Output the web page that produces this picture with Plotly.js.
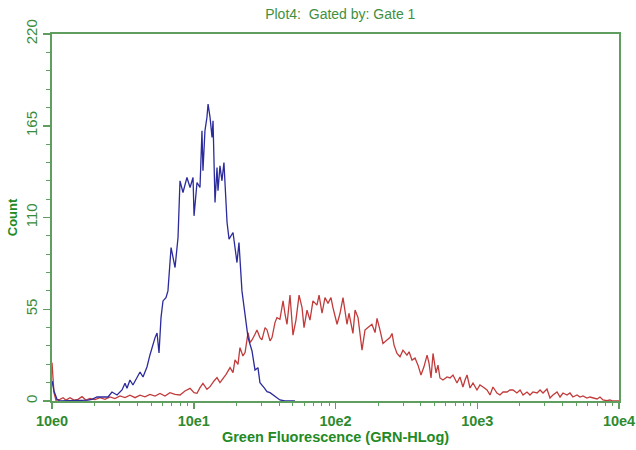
<!DOCTYPE html>
<html>
<head>
<meta charset="utf-8">
<script src="https://cdn.plot.ly/plotly-3.0.1.min.js"></script>
<style>html,body{margin:0;padding:0;background:#fff;}#chart{width:636px;height:450px;}</style>
</head>
<body>
<div id="chart"></div>
<script>
// Fluorescence positions stored as log10 (decades), counts
var blueLogFl = [0,0.014,0.035,0.056,0.254,0.282,0.317,0.360,0.395,0.423,0.459,0.494,0.515,0.529,0.550,0.571,0.600,0.621,0.642,0.670,0.691,0.713,0.727,0.741,0.755,0.769,0.783,0.804,0.818,0.840,0.868,0.889,0.903,0.924,0.952,0.974,0.995,1.002,1.023,1.044,1.058,1.065,1.079,1.093,1.101,1.115,1.129,1.136,1.150,1.164,1.171,1.185,1.199,1.213,1.235,1.249,1.277,1.305,1.319,1.340,1.362,1.383,1.411,1.432,1.453,1.467,1.496,1.517,1.538,1.559,1.587,1.608,1.644,1.714];
var blueCount = [12,6,1,0,0.5,1,2.4,2.4,2.4,5.4,3.6,6.6,10.6,7.6,12.6,9.6,14.4,17.4,14.4,20.4,27.6,34.8,38,40.8,28.8,50,60,62,66,92,80,98,132,125,134,128,134,111,131,128,162,138,162,170,178,170,158,168,119,140,126,141,132,143,107,97,101,83,95,66,50,38,30,18.6,20,11,8,5.6,5,3.6,2,0.6,0,0];

var redLogFl = [0,0.014,0.028,0.056,0.078,0.099,0.127,0.155,0.183,0.212,0.240,0.268,0.303,0.339,0.374,0.409,0.444,0.480,0.515,0.550,0.586,0.621,0.656,0.691,0.727,0.762,0.797,0.832,0.868,0.903,0.938,0.974,1.002,1.023,1.044,1.065,1.093,1.115,1.143,1.164,1.185,1.199,1.228,1.256,1.277,1.291,1.312,1.326,1.347,1.362,1.383,1.397,1.411,1.432,1.446,1.467,1.481,1.503,1.517,1.538,1.552,1.573,1.587,1.608,1.630,1.644,1.658,1.679,1.700,1.721,1.743,1.764,1.778,1.799,1.820,1.841,1.869,1.884,1.905,1.926,1.947,1.968,1.982,2.011,2.032,2.053,2.081,2.095,2.123,2.138,2.159,2.187,2.208,2.229,2.257,2.279,2.293,2.314,2.335,2.363,2.384,2.399,2.413,2.434,2.455,2.476,2.504,2.519,2.540,2.561,2.582,2.603,2.624,2.646,2.660,2.674,2.688,2.709,2.723,2.737,2.758,2.787,2.808,2.829,2.857,2.878,2.899,2.914,2.928,2.949,2.970,2.998,3.019,3.041,3.069,3.090,3.111,3.139,3.160,3.182,3.210,3.231,3.252,3.280,3.302,3.323,3.351,3.372,3.393,3.422,3.443,3.464,3.492,3.513,3.534,3.563,3.584,3.605,3.633,3.654,3.675,3.704,3.725,3.746,3.774,3.795,3.817,3.845,3.866,3.887,3.915,3.936,3.958,4.0];
var redCount = [23,5,0.5,1,2,0.5,2,0.5,1,2.6,0.5,1.5,0.8,2,1,2.5,1.5,3,2,3.5,2,3.5,2.5,4,3,4.5,3,5,4,3.6,6,7.6,5,4.6,8,10.6,7,8.6,12,14,11,12.6,16,20,17,24.6,22,32,27,29,41,35,36.6,40,42.6,38,36.6,44,42.6,36,38,47,50,49,60,52,46,63.5,39.5,48.5,63.5,56,44,54.5,48.5,60,57.5,63.5,52.6,62,58.5,62,56,46,52.6,62,46,52.6,40.5,54.5,50,30.5,42.5,44,46,41,49.5,42.5,34.5,36.5,38,40.5,33.5,28.5,26.5,30.5,27.5,29.5,24.5,25.8,21.5,15.6,20.5,27.5,22.5,13.8,28.5,16.8,21.5,13.8,12.6,14.4,13.8,15.6,10.8,14.4,8.4,12.6,15.6,7.8,10.8,6.6,9.6,8.4,6.6,3.6,8.4,4.8,3.6,5.4,5.4,6.6,6.6,4.8,6.6,3.6,5.4,3.6,5.4,4.8,6.6,4.8,7.2,1.8,3.6,5.4,2.4,4.8,3.6,4.8,2.4,3.6,2.4,3,1.8,2.4,1.8,1.2,2.4,0.6,0.2,0.6,0,0];

var xTickVals = [1, 10, 100, 1000, 10000];
var xTickText = ['10e0', '10e1', '10e2', '10e3', '10e4'];
var yTickVals = [0, 55, 110, 165, 220];
var yTickText = ['0', '55', '110', '165', '220'];

var toLinear = function (arr) { return arr.map(function (v) { return Math.pow(10, v); }); };

var frameGreen = '#5f9e5f';
var textGreen = '#2f8a2f';

var traces = [
  { x: toLinear(redLogFl), y: redCount, type: 'scatter', mode: 'lines',
    line: { color: '#c23b3b', width: 1.3 }, hoverinfo: 'x+y', showlegend: false },
  { x: toLinear(blueLogFl), y: blueCount, type: 'scatter', mode: 'lines',
    line: { color: '#2b2b9c', width: 1.3 }, hoverinfo: 'x+y', showlegend: false }
];

var layout = {
  width: 636, height: 450,
  margin: { l: 52, r: 17, t: 34, b: 49 },
  paper_bgcolor: '#ffffff', plot_bgcolor: '#ffffff',
  title: { text: 'Plot4:  Gated by: Gate 1', xref: 'container', x: 0.535, xanchor: 'center',
           yref: 'container', y: 0.969, yanchor: 'middle',
           font: { family: 'Liberation Sans, Arial, sans-serif', size: 14, color: '#3f8f3f' } },
  xaxis: {
    type: 'log', range: [0, 4],
    tickmode: 'array', tickvals: xTickVals, ticktext: xTickText,
    ticks: 'outside', ticklen: 6, tickwidth: 1.5, tickcolor: frameGreen,
    minor: { ticks: 'outside', dtick: 'D1', ticklen: 3, tickwidth: 1, tickcolor: frameGreen, showgrid: false },
    showline: true, mirror: true, linecolor: frameGreen, linewidth: 2,
    showgrid: false, zeroline: false,
    tickfont: { family: 'Liberation Sans, Arial, sans-serif', size: 14.5, color: textGreen, weight: 'bold' },
    title: { text: 'Green Fluorescence (GRN-HLog)', standoff: 3,
             font: { family: 'Liberation Sans, Arial, sans-serif', size: 14.5, color: '#238a23', weight: 'bold' } }
  },
  yaxis: {
    range: [0, 220],
    tickmode: 'array', tickvals: yTickVals, ticktext: yTickText, tickangle: -90,
    ticks: 'outside', ticklen: 7, tickwidth: 1.5, tickcolor: frameGreen,
    minor: { ticks: 'outside', dtick: 11, tick0: 0, ticklen: 4, tickwidth: 1, tickcolor: frameGreen, showgrid: false },
    showline: true, mirror: true, linecolor: frameGreen, linewidth: 2,
    showgrid: false, zeroline: false,
    tickfont: { family: 'Liberation Sans, Arial, sans-serif', size: 15, color: '#3a8c3a' },
    title: { text: 'Count', standoff: 2,
             font: { family: 'Liberation Sans, Arial, sans-serif', size: 13, color: '#238a23', weight: 'bold' } }
  }
};

Plotly.newPlot('chart', traces, layout, { displayModeBar: false, staticPlot: true });
</script>
</body>
</html>
